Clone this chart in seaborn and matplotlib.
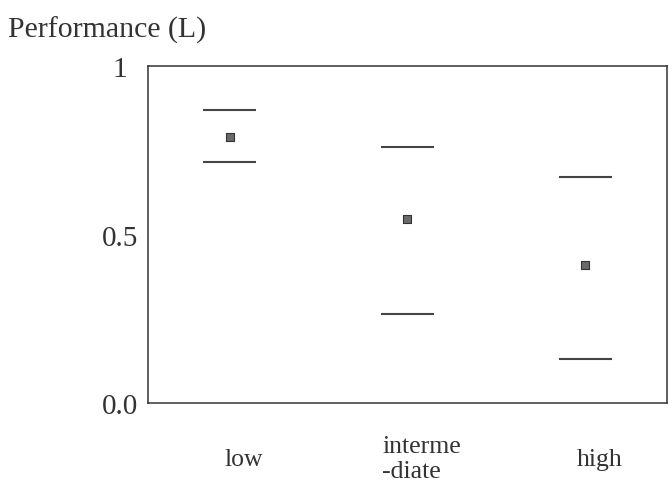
import numpy as np
import pandas as pd
import matplotlib
matplotlib.use('Agg')
import matplotlib.pyplot as plt
import seaborn as sns

# values
categories = ['low', 'interme\n-diate', 'high']
mean_perf = [0.79, 0.545, 0.41]
upper_perf = [0.87, 0.76, 0.67]
lower_perf = [0.715, 0.265, 0.13]
tick_vals = [0.0, 0.5, 1.0]
tick_labels = ['0.0', '0.5', '1']

df = pd.DataFrame({'x': np.arange(len(categories)), 'mean': mean_perf,
                   'upper': upper_perf, 'lower': lower_perf})

sns.set_style('white')
plt.rcParams['font.family'] = ['Liberation Serif', 'DejaVu Serif']

fig = plt.figure(figsize=(6.69, 4.89), dpi=100)
ax = fig.add_axes([0.2212, 0.1738, 0.7758, 0.689])

# upper and lower bounds
ax.hlines(df['upper'], df['x'] - 0.15, df['x'] + 0.15, color='#444444', lw=1.5)
ax.hlines(df['lower'], df['x'] - 0.15, df['x'] + 0.15, color='#444444', lw=1.5)

# mean points
sns.scatterplot(data=df, x='x', y='mean', marker='s', s=30, color='#6a6a6a',
                edgecolor='#333333', linewidth=0.8, ax=ax, zorder=3)

ax.set_xlim(-0.46, 2.46)
ax.set_ylim(0, 1)
# labels in the scan sit a little right of the marks
ax.set_xticks(df['x'] + 0.08)
ax.set_xticklabels(categories, fontsize=18.5, color='#333333', linespacing=1.15)
for lab in ax.get_xticklabels():
    lab.set_va('center')
    lab.set_multialignment('left')
ax.set_yticks(tick_vals)
ax.set_yticklabels(tick_labels, fontsize=21, color='#333333')
for lab in ax.get_yticklabels():
    lab.set_ha('center')
ax.tick_params(axis='x', length=0, pad=40)
ax.tick_params(axis='y', length=0, pad=20)
ax.set_xlabel('')
ax.set_ylabel('')

for sp in ax.spines.values():
    sp.set_visible(True)
    sp.set_color('#333333')
    sp.set_linewidth(1.1)

fig.text(0.012, 1 - 30 / 489, 'Performance (L)', fontsize=21.5, color='#333333',
         ha='left', va='center')

fig.savefig('out.png', dpi=100)
